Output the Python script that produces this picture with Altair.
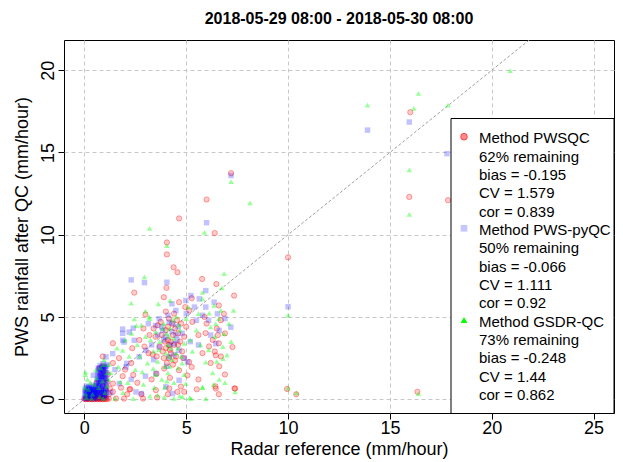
import altair as alt
import pandas as pd

FONT = "Liberation Sans"
TITLE = "2018-05-29 08:00 - 2018-05-30 08:00"
X_TITLE = "Radar reference (mm/hour)"
Y_TITLE = "PWS rainfall after QC (mm/hour)"
x_ticks = [0, 5, 10, 15, 20, 25]
y_ticks = [0, 5, 10, 15, 20]
diag = [-1, 26]

# Method PWSQC (red circles)
pwsqc_points = [
    (16.0, 17.45), (15.95, 12.3), (17.85, 12.1), (7.2, 13.74), (6.0, 12.14), (4.65, 10.99),
    (6.4, 10.1), (10.0, 8.62), (9.95, 0.62), (10.4, 0.3), (16.35, 0.45), (4.05, 9.53),
    (4.05, 8.8), (4.38, 8.02), (4.57, 7.72), (5.78, 7.31), (6.48, 7.0), (7.35, 6.3),
    (2.45, 6.48), (3.0, 5.15), (4.03, 6.77), (4.0, 5.33), (5.27, 6.14), (4.65, 5.9),
    (6.6, 5.7), (5.15, 5.4), (6.85, 5.19),
    (1.4, 3.4), (0.9, 2.6), (1.4, 2.2), (2.35, 3.1), (2.95, 3.2), (3.15, 2.8), (2.3, 2.2),
    (2.4, 1.47), (1.88, 1.4), (1.4, 0.95), (1.25, 0.65), (2.22, 0.59), (1.4, 0.45),
    (1.55, 0.04), (1.95, 0.04), (2.88, 0.04), (3.57, 0.1), (4.1, 0.3), (2.25, 0.62),
    (2.8, 0.3), (6.43, 0.78), (7.37, 0.65), (5.52, 0.6), (4.74, 0.77),
    (5.95, 4.02), (6.12, 3.21), (7.27, 3.17), (6.45, 2.67), (6.62, 2.0), (5.14, 2.26),
    (5.27, 1.96), (3.92, 1.86), (4.65, 1.76), (3.54, 1.55), (3.35, 2.72), (5.06, 1.45),
    (6.45, 0.65), (7.4, 0.65), (3.51, 0.55), (4.17, 0.65), (4.57, 0.45), (4.9, 0.45),
    (3.6, 4.5), (3.8, 3.9), (4.0, 4.2), (4.1, 3.6), (4.2, 3.0), (4.3, 4.6), (4.4, 3.3),
    (4.5, 2.6), (4.6, 4.0), (4.7, 3.5), (4.8, 2.9), (3.7, 3.2), (3.9, 2.5), (4.05, 2.2),
    (4.25, 2.8), (4.35, 3.9), (4.55, 4.8), (3.5, 3.8), (3.4, 4.3), (4.15, 4.9), (4.0, 3.1),
    (4.45, 2.35), (4.9, 3.8), (5.0, 4.4), (5.3, 4.7), (5.6, 3.9), (6.0, 4.6), (6.3, 3.6),
    (6.5, 4.3), (6.6, 3.4), (6.4, 2.9), (6.7, 4.8), (6.9, 4.0), (5.8, 2.8), (3.2, 3.9),
    (2.9, 4.3), (2.7, 3.6), (4.15, 3.3), (4.15, 2.5), (6.55, 3.9), (6.7, 2.6),
    (3.75, 4.7), (3.85, 2.9), (4.1, 4.4), (4.25, 3.5), (4.35, 2.1), (4.45, 4.3), (4.6, 3.3),
    (4.75, 4.6), (4.85, 2.5), (3.55, 2.6), (3.95, 3.5), (4.2, 1.3), (4.4, 5.2), (3.3, 1.2),
    (2.6, 1.0), (2.0, 1.8), (1.7, 2.5), (5.6, 1.2), (6.2, 2.2), (6.9, 1.5), (6.6, 0.3),
    (5.9, 5.0), (4.95, 5.6), (3.9, 6.2), (2.1, 0.3), (1.8, 0.7),
    (0.0, 0.02), (0.05, 0.0), (0.1, 0.05), (0.15, 0.0), (0.2, 0.03), (0.25, 0.0), (0.3, 0.05),
    (0.35, 0.01), (0.4, 0.0), (0.45, 0.04), (0.5, 0.0), (0.55, 0.06), (0.6, 0.02), (0.65, 0.0),
    (0.7, 0.04), (0.75, 0.0), (0.8, 0.05), (0.85, 0.02), (0.9, 0.0), (0.95, 0.03), (1.0, 0.01),
    (1.05, 0.05), (1.1, 0.0), (1.2, 0.03), (0.6, 1.0), (0.7, 0.5), (0.8, 1.5), (0.9, 0.8),
    (1.0, 1.2), (0.75, 1.9), (0.95, 1.7), (0.65, 0.3), (0.85, 0.2), (1.05, 0.6), (0.5, 0.4),
    (0.3, 0.2), (1.1, 1.0), (0.9, 2.0), (1.15, 1.5), (1.2, 0.3), (0.7, 0.12), (0.9, 0.15),
    (1.0, 0.25), (0.8, 0.1),
]

# Method PWS-pyQC (blue squares)
pyqc_points = [
    (13.9, 16.36), (15.95, 16.85), (17.8, 14.93), (10.0, 5.62), (7.2, 13.6), (6.0, 10.73),
    (2.3, 7.25), (2.95, 7.09), (4.05, 7.11), (2.4, 4.32), (1.88, 4.26), (1.95, 3.47),
    (1.88, 4.0), (2.08, 2.18), (2.8, 0.34),
    (2.2, 4.08), (1.88, 3.58), (3.14, 4.59), (3.5, 4.48), (3.67, 4.89), (4.16, 4.69),
    (4.49, 5.39), (4.98, 6.0), (5.23, 6.3), (5.64, 6.1), (5.96, 6.6), (6.37, 5.9),
    (6.53, 5.19), (5.96, 5.6), (3.84, 4.18), (4.0, 3.78), (4.41, 3.37), (4.65, 2.97),
    (4.16, 2.57), (3.67, 3.17), (2.45, 3.58), (3.02, 2.97), (2.69, 2.57), (1.39, 2.77),
    (1.06, 2.57), (2.04, 1.96), (3.51, 1.56), (4.65, 1.15), (4.0, 0.75), (4.33, 0.34),
    (1.71, 0.95), (2.53, 0.44), (5.06, 2.26), (6.45, 3.37), (6.62, 4.18), (7.19, 4.38),
    (0.44, 1.45), (4.3, 4.1), (4.5, 3.9), (4.2, 3.3), (3.9, 3.6), (4.6, 4.4), (5.2, 3.5),
    (5.5, 4.8), (3.3, 3.3), (4.05, 2.0), (4.3, 5.8),
    (3.6, 3.9), (3.8, 4.4), (4.1, 5.1), (4.35, 4.6), (4.55, 3.6), (4.8, 4.0), (5.0, 5.2),
    (5.4, 5.6), (5.8, 5.1), (6.1, 4.8), (3.4, 2.4), (3.0, 1.4), (2.3, 1.2), (1.5, 1.8),
    (1.3, 0.4), (4.4, 2.7), (4.9, 2.5), (5.6, 3.3), (6.2, 3.9), (6.9, 4.9),
    (0.00, 0.05), (0.02, 0.35), (0.04, 0.65), (0.06, 0.15), (0.08, 0.50), (0.10, 0.80),
    (0.12, 0.02), (0.14, 0.30), (0.16, 0.60), (0.18, 0.10), (0.20, 0.45), (0.22, 0.75),
    (0.24, 0.20), (0.26, 0.55), (0.28, 0.05), (0.30, 0.35), (0.32, 0.70), (0.34, 0.15),
    (0.36, 0.50), (0.38, 0.85), (0.40, 0.25), (0.42, 0.60), (0.44, 0.02), (0.46, 0.40),
    (0.48, 0.75), (0.50, 0.12), (0.52, 0.50), (0.54, 0.30), (0.56, 0.80), (0.58, 0.05),
    (0.60, 0.95), (0.62, 0.35), (0.63, 1.25), (0.65, 0.65), (0.66, 1.55), (0.68, 0.10),
    (0.70, 1.00), (0.71, 1.85), (0.73, 0.45), (0.74, 1.35), (0.76, 0.80), (0.77, 2.05),
    (0.79, 0.20), (0.80, 1.60), (0.82, 1.10), (0.83, 0.55), (0.85, 1.95), (0.86, 0.30),
    (0.88, 1.40), (0.89, 0.85), (0.91, 2.15), (0.92, 0.05), (0.94, 1.70), (0.95, 1.15),
    (0.97, 0.60), (0.98, 2.00), (1.00, 0.35), (1.01, 1.45), (1.03, 0.90), (1.04, 1.85),
    (1.06, 0.15), (1.07, 1.25), (1.09, 0.70), (1.10, 1.60), (1.12, 2.10), (0.64, 0.25),
    (0.72, 1.20), (0.81, 0.40), (0.87, 1.75), (0.93, 1.30), (0.99, 0.20), (1.05, 0.50),
    (0.69, 1.70), (0.78, 1.00), (0.10, 0.30), (0.25, 0.40), (0.45, 0.20), (0.55, 0.55),
    (0.35, 0.65), (0.15, 0.45), (0.90, 1.55), (0.95, 0.40), (0.75, 0.60), (1.02, 1.10),
    (0.05, 0.50), (0.12, 0.70), (0.20, 0.25), (0.28, 0.60), (0.33, 0.40), (0.40, 0.10),
    (0.47, 0.60), (0.53, 0.20), (0.58, 0.70), (0.62, 0.80), (0.65, 1.10), (0.67, 0.40),
    (0.70, 1.40), (0.72, 0.70), (0.75, 1.60), (0.77, 0.30), (0.80, 1.20), (0.82, 1.80),
    (0.84, 0.65), (0.86, 1.30), (0.88, 0.10), (0.90, 1.90), (0.92, 0.95), (0.94, 0.45),
    (0.96, 1.50), (0.98, 0.80), (1.00, 1.90), (1.02, 0.60), (1.04, 1.30), (1.06, 2.00),
    (1.08, 0.40), (1.10, 1.00), (0.63, 0.55), (0.68, 1.90), (0.73, 0.90), (0.83, 1.40),
    (0.93, 1.80), (1.03, 1.60), (0.97, 0.25), (0.87, 0.50), (0.07, 0.10), (0.17, 0.35),
    (0.27, 0.15), (0.37, 0.30), (0.43, 0.45), (0.50, 0.30), (0.57, 0.40), (0.23, 0.65),
    (0.31, 0.55), (0.13, 0.20),
]

# Method GSDR-QC (green triangles)
gsdr_points = [
    (13.9, 17.88), (16.4, 18.6), (16.17, 17.68), (17.85, 17.88), (20.9, 19.98), (15.95, 13.94),
    (15.95, 11.23), (16.4, 0.34), (7.2, 13.23), (8.13, 11.94), (3.2, 10.38), (5.9, 10.14),
    (10.0, 5.09), (10.0, 0.67), (10.42, 0.38), (4.05, 9.33), (2.95, 7.44), (2.3, 5.84),
    (2.99, 5.35), (3.2, 4.9), (2.45, 4.89), (2.55, 4.48),
    (6.86, 7.64), (6.75, 6.77), (5.8, 6.5), (5.8, 6.1), (4.21, 6.0), (6.37, 5.7), (6.13, 5.23),
    (7.32, 5.4), (3.63, 5.8), (3.18, 5.0), (6.85, 3.98), (5.2, 3.6), (6.81, 2.46), (5.96, 2.26),
    (3.38, 1.86), (4.98, 0.95), (6.62, 1.2), (5.8, 0.71), (7.4, 0.45), (3.43, 0.71),
    (3.59, 0.24), (3.92, 0.14), (4.82, 0.14), (5.23, 0.04), (5.96, 0.04), (0.96, 2.4),
    (1.88, 2.97), (2.32, 4.0), (2.73, 2.6), (1.67, 1.97), (2.85, 1.66), (1.76, 1.05),
    (2.13, 1.0), (3.22, 0.18), (2.4, 0.04), (0.05, 1.5), (0.05, 1.65), (0.55, 1.76),
    (0.08, 0.3), (0.93, 0.05), (4.68, 0.2), (5.8, 0.73), (5.17, 0.1), (3.95, 0.73),
    (1.5, 0.05), (4.4, 0.05),
    (3.5, 4.1), (3.7, 3.5), (3.9, 4.6), (4.0, 2.8), (4.1, 3.3), (4.2, 4.3), (4.3, 2.4),
    (4.4, 3.7), (4.5, 5.0), (4.6, 3.1), (4.7, 4.2), (4.8, 2.2), (4.9, 3.4), (5.0, 4.9),
    (3.4, 2.9), (3.6, 2.3), (3.8, 1.2), (4.1, 1.6), (4.4, 1.0), (4.6, 1.9), (5.3, 2.9),
    (5.5, 4.2), (5.7, 3.3), (6.2, 4.4), (6.4, 3.8), (6.5, 2.3), (6.6, 4.9), (6.8, 3.2),
    (7.0, 2.7), (6.3, 1.6), (6.9, 1.0), (7.1, 4.6), (3.0, 3.8), (2.8, 4.5), (2.6, 3.3),
    (3.1, 2.2), (2.2, 2.6), (1.6, 3.1), (1.3, 1.6), (1.1, 0.8), (4.05, 4.0), (4.15, 3.8),
    (4.15, 2.6), (4.2, 2.0),
    (3.65, 3.0), (3.85, 4.3), (3.95, 2.0), (4.25, 3.1), (4.35, 4.8), (4.5, 2.8), (4.65, 4.5),
    (4.75, 2.6), (4.9, 1.5), (4.05, 1.1), (3.5, 1.5), (2.9, 0.9), (2.5, 1.8), (1.9, 0.4),
    (5.1, 5.6), (5.6, 5.2), (6.1, 3.0), (6.35, 0.9), (6.7, 5.4), (7.2, 3.5), (6.45, 4.6),
    (3.25, 3.6), (2.0, 3.6), (1.2, 2.1),
    (0.1, 0.1), (0.2, 0.6), (0.3, 1.0), (0.4, 0.3), (0.6, 1.3), (0.7, 0.7), (0.8, 1.9),
    (0.9, 1.1), (1.0, 0.4), (1.1, 1.6), (0.5, 0.9), (0.75, 0.15), (0.95, 2.1), (1.2, 1.2),
    (0.15, 1.2), (0.02, 0.7), (0.35, 0.05),
]

legend_blocks = [
    ["Method PWSQC", "62% remaining", "bias = -0.195", "CV = 1.579", "cor = 0.839"],
    ["Method PWS-pyQC", "50% remaining", "bias = -0.066", "CV = 1.111", "cor = 0.92"],
    ["Method GSDR-QC", "73% remaining", "bias = -0.248", "CV = 1.44", "cor = 0.862"],
]


def to_df(points):
    return pd.DataFrame(points, columns=["x", "y"])


xs = alt.Scale(domain=[-1, 26], nice=False, zero=False)
ys = alt.Scale(domain=[-0.84, 21.84], nice=False, zero=False)
common_axis = dict(
    grid=True, gridDash=[4, 3], gridColor="#c8c8c8", gridWidth=1, domain=False,
    ticks=True, tickColor="black", tickSize=6, labelFontSize=18, titleFontSize=18,
    labelFont=FONT, titleFont=FONT, labelColor="black", titleColor="black",
    titleFontWeight="normal", labelFlush=False, labelOverlap=False,
)
xaxis = alt.Axis(title=X_TITLE, values=x_ticks, labelPadding=0, titlePadding=3, **common_axis)
yaxis = alt.Axis(title=Y_TITLE, values=y_ticks, labelAngle=270, labelPadding=1,
                 titlePadding=8, **common_axis)
X = alt.X("x:Q", scale=xs, axis=xaxis)
Y = alt.Y("y:Q", scale=ys, axis=yaxis)

line = alt.Chart(pd.DataFrame({"x": diag, "y": diag})).mark_line(
    color="#a0a0a0", strokeWidth=1, strokeDash=[3, 2], clip=True
).encode(x=X, y=Y)

red = alt.Chart(to_df(pwsqc_points)).mark_point(
    shape="circle", size=28, filled=False, fill="#ff0000", fillOpacity=0.2,
    stroke="#ff0000", strokeOpacity=0.35, strokeWidth=1, clip=True
).encode(x=X, y=Y)

blue = alt.Chart(to_df(pyqc_points)).mark_square(
    size=30, color="#0000ff", opacity=0.24, clip=True
).encode(x=X, y=Y)

green = alt.Chart(to_df(gsdr_points)).mark_point(
    shape="triangle-up", size=30, filled=True, color="#00ff00", opacity=0.4, clip=True
).encode(x=X, y=Y)

one = pd.DataFrame({"k": [0]})
legend_box = alt.Chart(one).mark_rect(fill="white", stroke="black", strokeWidth=1).encode(
    x=alt.value(387), x2=alt.value(550), y=alt.value(78.5), y2=alt.value(373.5)
)

layers = [line, red, blue, green, legend_box]

sym_y = [96.7, 188.3, 280.0]
layers.append(alt.Chart(one).mark_point(
    shape="circle", size=45, filled=True, fill="#ff0000", fillOpacity=0.45,
    stroke="#ff0000", strokeOpacity=0.6, strokeWidth=1
).encode(x=alt.value(400), y=alt.value(sym_y[0])))
layers.append(alt.Chart(one).mark_square(size=45, color="#0000ff", opacity=0.22).encode(
    x=alt.value(400), y=alt.value(sym_y[1])))
layers.append(alt.Chart(one).mark_point(
    shape="triangle-up", size=45, filled=True, color="#00ff00", opacity=1
).encode(x=alt.value(400), y=alt.value(sym_y[2])))

i = 0
for block in legend_blocks:
    for txt in block:
        layers.append(alt.Chart(one).mark_text(
            align="left", baseline="middle", font=FONT, fontSize=15, color="black"
        ).encode(x=alt.value(415), y=alt.value(98.3 + 18.33 * i), text=alt.value(txt)))
        i += 1

chart = alt.layer(*layers).properties(
    width=550, height=373,
    title=alt.TitleParams(text=TITLE, font=FONT, fontSize=16, fontWeight="bold",
                          anchor="middle", offset=13, color="black"),
    autosize=alt.AutoSizeParams(type="none"),
    padding={"left": 56, "top": 32, "right": 1, "bottom": 48},
).configure_view(stroke="black", strokeWidth=1)

chart.save("out.html", embed_options={"renderer": "svg", "actions": False})
